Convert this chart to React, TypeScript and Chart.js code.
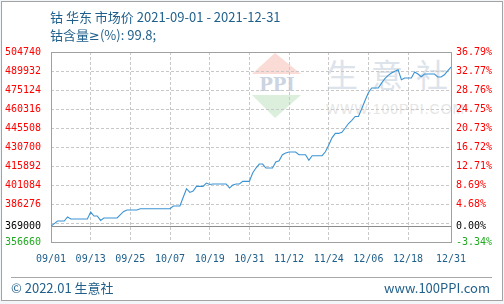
import React, { useEffect, useRef } from "react";
import { Chart, registerables } from "chart.js";

Chart.register(...registerables);

const BASE = 369000;
const Y_MIN = 356660;
const Y_MAX = 504740;
const HIDDEN_TICK = 371468;

const yTickValues = [356660, 369000, 371468, 386276, 401084, 415892, 430700, 445508, 460316, 475124, 489932, 504740];
const xTickDays = [0, 12, 24, 36, 48, 60, 72, 84, 96, 108, 121];
const xTickLabels = ["09/01", "09/13", "09/25", "10/07", "10/19", "10/31", "11/12", "11/24", "12/06", "12/18", "12/31"];

// daily prices from 2021-09-01 (day 0) to 2021-12-31 (day 121)
const prices = [
  369000, 371000, 373000, 373000, 373000, 376200, 374600, 374600, 374600, 374600,
  374600, 374600, 380000, 376900, 376900, 373500, 375400, 375400, 375400, 375400,
  375400, 378000, 380500, 381600, 381600, 381600, 381600, 382600, 382600, 382600,
  382600, 382600, 382600, 382600, 382600, 382600, 382600, 384700, 384700, 384700,
  391500, 398200, 395300, 396400, 400000, 400000, 400000, 402600, 401500, 401900,
  401900, 401900, 401900, 401900, 398700, 401100, 401900, 401900, 403900, 403900,
  403900, 410400, 414300, 417400, 417400, 414300, 414300, 414300, 419000, 420000,
  424700, 426000, 426800, 426800, 426800, 424700, 424700, 424700, 420300, 423900,
  423900, 423900, 423900, 427000, 432000, 437800, 441300, 441300, 442200, 445500,
  449000, 451500, 454500, 454500, 460500, 467000, 473000, 476700, 476700, 476700,
  480500, 484000, 486500, 488400, 489800, 490900, 483200, 484500, 484500, 484500,
  489200, 487600, 485500, 487600, 487600, 487600, 487600, 485300, 485300, 487000,
  490000, 493000,
];

const TITLE = "钴 华东 市场价 2021-09-01 - 2021-12-31";
const SUBTITLE_A = "钴含量";
const SUBTITLE_B = "≥";
const SUBTITLE_C = "(%): 99.8;";
const FOOTER_LEFT = "© 2022.01 生意社";
const FOOTER_RIGHT = "www.100PPI.com";

const MONO = "'DejaVu Sans Mono', 'Liberation Mono', monospace";
const SANS = "'Noto Sans CJK SC', 'Noto Sans', sans-serif";
const BLUE_TEXT = "#1f5f8b";

function tickColor(v: number) {
  if (v > BASE) return "#ff0000";
  if (v === BASE) return "#000000";
  return "#22aa22";
}

export default function App() {
  const canvasRef = useRef<HTMLCanvasElement | null>(null);

  useEffect(() => {
    if (!canvasRef.current) return;
    const areaBorder = {
      id: "areaBorder",
      beforeDatasetsDraw(chart: any) {
        const { ctx, chartArea, scales } = chart;
        ctx.save();
        const yb = Math.round(scales.y.getPixelForValue(BASE)) + 0.5;
        ctx.strokeStyle = "#8c8c8c";
        ctx.lineWidth = 1;
        ctx.beginPath();
        ctx.moveTo(chartArea.left, yb);
        ctx.lineTo(chartArea.right, yb);
        ctx.stroke();
        ctx.strokeStyle = "#a0a0a0";
        ctx.strokeRect(
          Math.round(chartArea.left) + 0.5,
          Math.round(chartArea.top) + 0.5,
          Math.round(chartArea.right - chartArea.left),
          Math.round(chartArea.bottom - chartArea.top)
        );
        ctx.restore();
      },
    };

    const chart = new Chart(canvasRef.current, {
      type: "line",
      data: {
        datasets: [
          {
            data: prices.map((v, i) => ({ x: i, y: v })),
            borderColor: "#3b93d3",
            borderWidth: 1.1,
            pointRadius: 0,
            tension: 0,
            fill: false,
          },
        ],
      },
      options: {
        animation: false,
        responsive: false,
        maintainAspectRatio: false,
        layout: { padding: { top: 52, bottom: 22, left: 0, right: 0 } },
        plugins: { legend: { display: false }, tooltip: { enabled: false } },
        scales: {
          x: {
            type: "linear",
            min: 0,
            max: 121,
            afterBuildTicks: (s: any) => {
              s.ticks = xTickDays.map((v) => ({ value: v }));
            },
            afterFit: (s: any) => {
              s.height = 40;
            },
            ticks: {
              autoSkip: false,
              maxRotation: 0,
              minRotation: 0,
              padding: 11,
              color: BLUE_TEXT,
              font: { family: MONO, size: 10 },
              callback: (_v: any, i: number) => xTickLabels[i],
            },
            grid: { color: "#c8c8c8", drawTicks: false, lineWidth: 1 },
            border: { display: false, dash: [3, 2] },
          },
          y: {
            type: "linear",
            position: "left",
            min: Y_MIN,
            max: Y_MAX,
            afterBuildTicks: (s: any) => {
              s.ticks = yTickValues.map((v) => ({ value: v }));
            },
            afterFit: (s: any) => {
              s.width = 51;
            },
            ticks: {
              autoSkip: false,
              padding: 10,
              font: { family: MONO, size: 10 },
              color: (ctx: any) => tickColor(ctx.tick ? ctx.tick.value : 0),
              callback: (v: any) => (v === HIDDEN_TICK ? "" : String(v)),
            },
            grid: {
              drawTicks: false,
              color: (ctx: any) =>
                ctx.tick && (ctx.tick.value === BASE || ctx.tick.value === Y_MIN || ctx.tick.value === Y_MAX)
                  ? "rgba(0,0,0,0)"
                  : "#c8c8c8",
            },
            border: { display: false, dash: [3, 2] },
          },
          y2: {
            type: "linear",
            position: "right",
            min: Y_MIN,
            max: Y_MAX,
            afterBuildTicks: (s: any) => {
              s.ticks = yTickValues.map((v) => ({ value: v }));
            },
            afterFit: (s: any) => {
              s.width = 53;
            },
            ticks: {
              autoSkip: false,
              padding: 5,
              font: { family: MONO, size: 10 },
              color: (ctx: any) => tickColor(ctx.tick ? ctx.tick.value : 0),
              callback: (v: any) =>
                v === HIDDEN_TICK ? "" : (((v - BASE) / BASE) * 100).toFixed(2) + "%",
            },
            grid: { display: false, drawTicks: false },
            border: { display: false },
          },
        },
      },
      plugins: [areaBorder],
    } as any);
    return () => chart.destroy();
  }, []);

  return (
    <div
      style={{
        position: "absolute",
        left: 0,
        top: 0,
        width: 504,
        height: 304,
        background: "#f2f6f9",
        overflow: "hidden",
      }}
    >
      <div
        style={{
          position: "absolute",
          left: 1,
          top: 1,
          width: 500,
          height: 298,
          border: "1px solid #a3a3a3",
          background: "#ffffff",
        }}
      />
      {/* watermark */}
      <svg width={504} height={304} style={{ position: "absolute", left: 0, top: 0 }}>
        <polygon points="275,53 252,74 301,74" fill="#fadbd6" />
        <polygon points="252,95 301,95 275,118" fill="#dcefdc" />
      </svg>
      <div
        style={{
          position: "absolute",
          left: 252,
          top: 75,
          width: 50,
          textAlign: "center",
          fontFamily: "'DejaVu Serif', serif",
          fontWeight: "bold",
          fontSize: 18,
          lineHeight: "20px",
          color: "#cbd4e0",
        }}
      >
        PPI
      </div>
      <div
        style={{
          position: "absolute",
          left: 326,
          top: 53,
          fontFamily: SANS,
          fontSize: 32,
          lineHeight: "40px",
          color: "#dde3eb",
          letterSpacing: 13,
          whiteSpace: "nowrap",
        }}
      >
        生意社
      </div>
      <div
        style={{
          position: "absolute",
          left: 326,
          top: 100,
          fontFamily: "'Liberation Sans', sans-serif",
          fontSize: 14,
          lineHeight: "18px",
          color: "#e6e6e6",
          letterSpacing: 1,
          whiteSpace: "nowrap",
        }}
      >
        WWW.100PPI.COM
      </div>
      <canvas
        ref={canvasRef}
        width={504}
        height={304}
        style={{ position: "absolute", left: 0, top: 0, width: 504, height: 304 }}
      />
      <div
        style={{
          position: "absolute",
          left: 50,
          top: 8,
          fontFamily: SANS,
          fontSize: 13,
          lineHeight: "18px",
          color: BLUE_TEXT,
          whiteSpace: "nowrap",
        }}
      >
        {TITLE}
      </div>
      <div
        style={{
          position: "absolute",
          left: 50,
          top: 26,
          fontFamily: SANS,
          fontSize: 13,
          lineHeight: "18px",
          color: BLUE_TEXT,
          whiteSpace: "nowrap",
        }}
      >
        {SUBTITLE_A}
        <span style={{ fontFamily: "'DejaVu Sans', sans-serif" }}>{SUBTITLE_B}</span>
        {SUBTITLE_C}
      </div>
      <div
        style={{
          position: "absolute",
          left: 11,
          top: 277,
          width: 481,
          height: 0,
          borderTop: "1px solid #a8a8a8",
        }}
      />
      <div
        style={{
          position: "absolute",
          left: 11,
          top: 279,
          fontFamily: SANS,
          fontSize: 13,
          lineHeight: "18px",
          color: BLUE_TEXT,
          whiteSpace: "nowrap",
        }}
      >
        {FOOTER_LEFT}
      </div>
      <div
        style={{
          position: "absolute",
          right: 14,
          top: 279,
          fontFamily: SANS,
          fontSize: 13,
          lineHeight: "18px",
          color: BLUE_TEXT,
          whiteSpace: "nowrap",
        }}
      >
        {FOOTER_RIGHT}
      </div>
    </div>
  );
}
